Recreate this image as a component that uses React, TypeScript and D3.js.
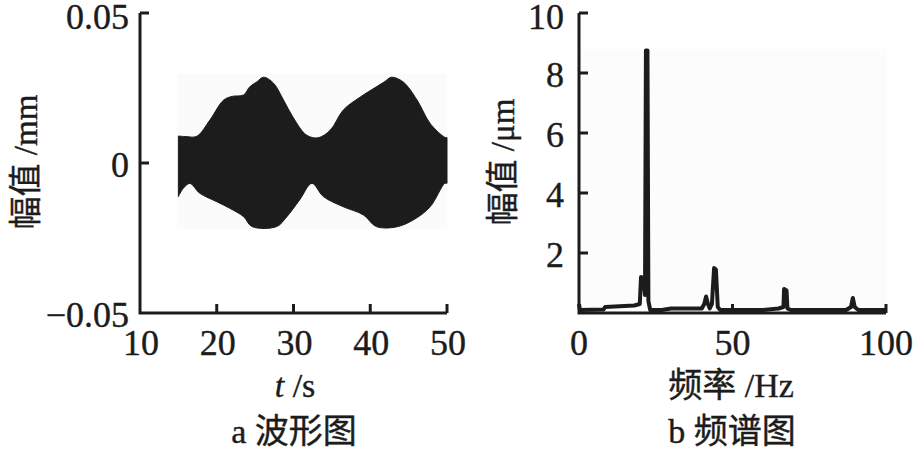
import React from 'react';
import { scaleLinear, line, curveCatmullRom } from 'd3';

// left panel: waveform envelope (t in s, amplitude in mm)
const waveT = [15, 16, 17.4, 19.1, 20.9, 22, 23.5, 24.3, 25.2, 26.1, 27.4, 28.7, 30.0, 31.7, 33.2, 34.8, 36.5, 38.7, 40.8, 41.8, 42.8, 44.3, 46.1, 47.8, 49.7, 50];
const waveUpper = [0.009, 0.0088, 0.0089, 0.0143, 0.021, 0.0222, 0.0227, 0.0254, 0.027, 0.0286, 0.0266, 0.021, 0.015, 0.0093, 0.0084, 0.011, 0.0177, 0.022, 0.0254, 0.027, 0.0286, 0.027, 0.021, 0.0132, 0.0086, 0.0085];
const lowT = [15, 15.65, 16.5, 17.8, 20.0, 21.7, 23.5, 24.6, 27.8, 29.1, 30.8, 32.4, 33.9, 36.5, 39.1, 40.8, 43.4, 45.6, 47.8, 49.7, 50];
const waveLower = [-0.0112, -0.0084, -0.0068, -0.0101, -0.0129, -0.0151, -0.0179, -0.0212, -0.0212, -0.018, -0.0123, -0.0068, -0.0112, -0.0146, -0.0173, -0.0212, -0.0213, -0.019, -0.0146, -0.0068, -0.0068];
const tTicks = [10, 20, 30, 40, 50];
const aTicks = [-0.05, 0, 0.05];
const aTickLabels = ['\u22120.05', '0', '0.05'];

// right panel: spectrum (Hz, µm)
const specFreq = [0, 0.3, 8, 8.5, 18, 19.8, 20.2, 21.0, 21.5, 21.8, 22.3, 22.6, 23.2, 27, 30, 35, 40, 40.8, 41.4, 42.0, 42.6, 43.3, 44.0, 44.6, 45.2, 46, 60, 65, 66.6, 66.8, 67.6, 67.9, 69, 87, 88.6, 89.2, 89.8, 91, 100];
const specAmp = [0.3, 0.1, 0.12, 0.2, 0.25, 0.3, 1.2, 1.15, 0.6, 8.75, 8.75, 0.4, 0.1, 0.1, 0.15, 0.15, 0.15, 0.3, 0.55, 0.3, 0.15, 0.3, 1.5, 1.45, 0.2, 0.1, 0.1, 0.15, 0.2, 0.8, 0.75, 0.15, 0.1, 0.1, 0.2, 0.5, 0.2, 0.1, 0.1];
const fTicks = [0, 50, 100];
const sTicks = [2, 4, 6, 8, 10];

const FONT = '"Liberation Serif", "Noto Sans CJK SC", serif';
const INK = '#1c1c1c';

export default function App() {
  const top = 13, bottom = 313;

  const xL = scaleLinear().domain([10, 50]).range([140, 447]);
  const yL = scaleLinear().domain([-0.05, 0.05]).range([bottom, top]);
  const xR = scaleLinear().domain([0, 100]).range([579, 886]);
  const yR = scaleLinear().domain([0, 10]).range([bottom, top]);

  // smooth envelopes, upper left->right then lower right->left
  const env = line().curve(curveCatmullRom);
  const upperPath = env(waveT.map((t, i) => [xL(t), yL(waveUpper[i])] as [number, number])) ?? '';
  const lowerPath = env(lowT.map((t, i) => [xL(t), yL(waveLower[i])] as [number, number]).reverse()) ?? '';
  const wavePath = upperPath + 'L' + lowerPath.slice(1) + 'Z';

  const specPath = line<number>()
    .x((d, i) => xR(specFreq[i]))
    .y(d => yR(d))(specAmp);

  const tick = 9;
  // keep the top labels just inside the page
  const labelDy = (y: number) => (y < 20 ? 4 : 2);

  return (
    <svg width={917} height={450} style={{ position: 'absolute', left: 0, top: 0, background: '#fff' }}
      fontFamily={FONT}>
      {/* faint image backgrounds */}
      <rect x={xL(14.8)} y={yL(0.0297)} width={xL(50) - xL(14.8)} height={yL(-0.022) - yL(0.0297)} fill="#fbfbfb" />
      <rect x={xR(0)} y={yR(8.8)} width={xR(100.3) - xR(0)} height={yR(0) - yR(8.8)} fill="#fcfcfc" />

      {/* panel a */}
      <path d={wavePath} fill={INK} stroke={INK} strokeWidth={1} />
      <g stroke={INK} strokeWidth={3} fill="none">
        <path d={`M${xL(10)},${yL(0.05)}V${yL(-0.05)}H${xL(50)}`} />
        {tTicks.slice(1).map(t => <line key={t} x1={xL(t)} x2={xL(t)} y1={bottom} y2={bottom - tick} />)}
        {aTicks.slice(1).map(a => <line key={a} x1={xL(10)} x2={xL(10) + tick} y1={yL(a)} y2={yL(a)} />)}
      </g>
      <g fontSize={36} fill={INK} stroke={INK} strokeWidth={0.4}>
        {tTicks.map(t => <text key={t} x={xL(t) + 1} y={bottom + 42} textAnchor="middle">{t}</text>)}
        {aTicks.map((a, i) => <text key={a} x={xL(10) - 11} y={yL(a) + labelDy(yL(a))} textAnchor="end" dominantBaseline="central">{aTickLabels[i]}</text>)}
      </g>
      <g fill={INK} stroke={INK} strokeWidth={0.4}>
        <text transform="translate(26,162) rotate(-90)" fontSize={33} textAnchor="middle" dominantBaseline="central">幅值 /mm</text>
        <text x={295} y={397} fontSize={34} textAnchor="middle"><tspan fontStyle="italic">t</tspan> /s</text>
        <text x={294} y={443} fontSize={34} textAnchor="middle">a 波形图</text>
      </g>

      {/* panel b */}
      <path d={specPath ?? ''} fill="none" stroke={INK} strokeWidth={4} strokeLinejoin="round" />
      <g stroke={INK} strokeWidth={3} fill="none">
        <path d={`M${xR(0)},${yR(10)}V${yR(0)}H${xR(100)}`} />
        {fTicks.slice(1).map(f => <line key={f} x1={xR(f)} x2={xR(f)} y1={bottom} y2={bottom - tick} />)}
        {sTicks.map(s => <line key={s} x1={xR(0)} x2={xR(0) + tick} y1={yR(s)} y2={yR(s)} />)}
      </g>
      <g fontSize={36} fill={INK} stroke={INK} strokeWidth={0.4}>
        {fTicks.map(f => <text key={f} x={xR(f)} y={bottom + 42} textAnchor="middle">{f}</text>)}
        {sTicks.map(s => <text key={s} x={xR(0) - 15} y={yR(s) + labelDy(yR(s))} textAnchor="end" dominantBaseline="central">{s}</text>)}
      </g>
      <g fill={INK} stroke={INK} strokeWidth={0.4}>
        <text transform="translate(503,162) rotate(-90)" fontSize={33} textAnchor="middle" dominantBaseline="central">幅值 /μm</text>
        <text x={731} y={397} fontSize={34} textAnchor="middle">频率 /Hz</text>
        <text x={732} y={443} fontSize={34} textAnchor="middle">b 频谱图</text>
      </g>
    </svg>
  );
}
